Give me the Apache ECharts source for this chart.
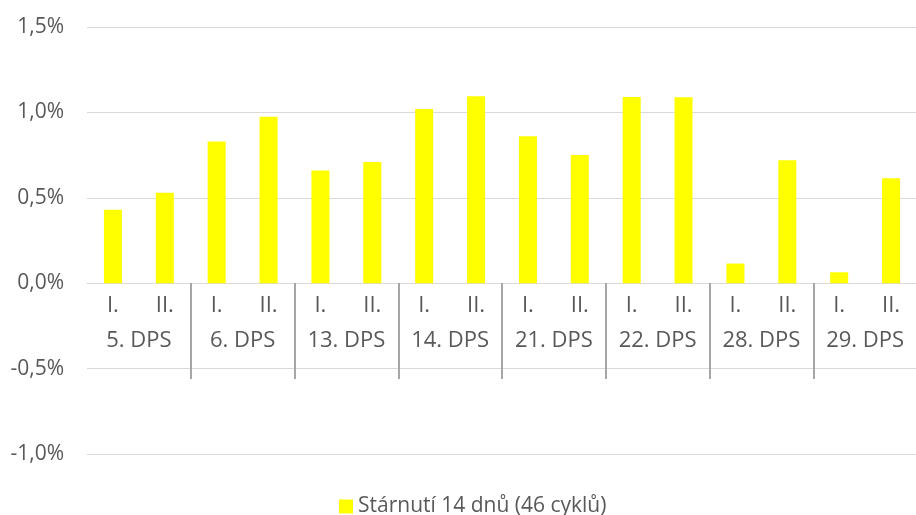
<!DOCTYPE html>
<html>
<head>
<meta charset="utf-8">
<script src="https://cdn.jsdelivr.net/npm/echarts@6/dist/echarts.min.js"></script>
<style>
  html, body { margin: 0; padding: 0; background: #fff; overflow: hidden; }
  /* a bit wider than the window so the closing group tick falls off screen */
  #chart { width: 920px; height: 515px; }
</style>
</head>
<body>
<div id="chart"></div>
<script>
const subLabels = ['I.', 'II.', 'I.', 'II.', 'I.', 'II.', 'I.', 'II.', 'I.', 'II.', 'I.', 'II.', 'I.', 'II.', 'I.', 'II.']
const groups = ['5. DPS', '6. DPS', '13. DPS', '14. DPS', '21. DPS', '22. DPS', '28. DPS', '29. DPS']
// values in %
const aging14 = [0.43, 0.53, 0.83, 0.975, 0.66, 0.71, 1.02, 1.095, 0.86, 0.75, 1.09, 1.088, 0.115, 0.72, 0.064, 0.615]
const seriesName = 'Stárnutí 14 dnů (46 cyklů)'

const font = '"Open Sans", "Noto Sans", sans-serif'
const textColor = '#595959'

// x axes sit on the 0 line: grid bottom is at -1 %, so lift them with offset
const zeroLift = -171

const chart = echarts.init(document.getElementById('chart'))
chart.setOption({
  animation: false,
  grid: { left: 87, right: 3, top: 27, bottom: 61 },
  legend: {
    bottom: -2,
    left: 339,
    padding: 0,
    icon: 'rect',
    itemWidth: 14,
    itemHeight: 14,
    itemGap: 6,
    textStyle: { color: textColor, fontSize: 21, fontFamily: font },
    data: [seriesName]
  },
  xAxis: [
    {
      type: 'category',
      data: subLabels,
      position: 'bottom',
      offset: zeroLift,
      axisLine: { show: true, onZero: false, lineStyle: { color: '#d9d9d9' } },
      axisTick: { show: false },
      axisLabel: { color: textColor, fontSize: 22, fontFamily: font, margin: 12, interval: 0 }
    },
    {
      type: 'category',
      data: groups,
      position: 'bottom',
      offset: zeroLift,
      axisLine: { show: false, onZero: false },
      axisTick: {
        show: true,
        length: 96,
        interval: function (index) { return index > 0 },
        lineStyle: { color: '#a6a6a6', width: 2 }
      },
      axisLabel: { color: textColor, fontSize: 22, fontFamily: font, margin: 47, interval: 0 }
    }
  ],
  yAxis: {
    type: 'value',
    min: -1,
    max: 1.5,
    interval: 0.5,
    axisLine: { show: false },
    axisTick: { show: false },
    splitLine: { lineStyle: { color: '#d9d9d9' } },
    axisLabel: {
      color: textColor, fontSize: 21, fontFamily: font, margin: 23,
      formatter: function (v) { return v.toFixed(1).replace('.', ',') + '%' }
    }
  },
  series: [
    {
      name: seriesName,
      type: 'bar',
      xAxisIndex: 0,
      data: aging14,
      barWidth: 18,
      itemStyle: { color: '#ffff00' }
    }
  ]
})
</script>
</body>
</html>
